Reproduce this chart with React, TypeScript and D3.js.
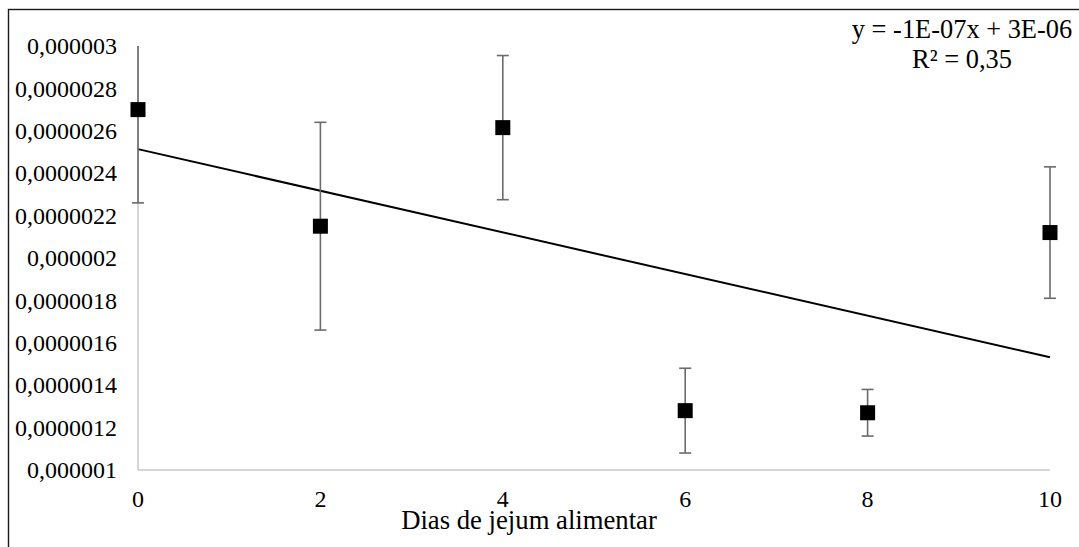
import React, { useRef, useEffect } from "react";
import * as d3 from "d3";

// dias de jejum e valores medios com erro
const days = [0, 2, 4, 6, 8, 10];
const means = [2.7e-6, 2.15e-6, 2.615e-6, 1.28e-6, 1.27e-6, 2.12e-6];
const errors = [0.44e-6, 0.49e-6, 0.34e-6, 0.2e-6, 0.11e-6, 0.31e-6];

const xTicks = [0, 2, 4, 6, 8, 10];
const yTicks = [1e-6, 1.2e-6, 1.4e-6, 1.6e-6, 1.8e-6, 2e-6, 2.2e-6, 2.4e-6, 2.6e-6, 2.8e-6, 3e-6];

const equationText = "y = -1E-07x + 3E-06";
const r2Text = "R² = 0,35";
const xTitle = "Dias de jejum alimentar";

const App = () => {
  const chartRef = useRef<HTMLDivElement>(null);

  useEffect(() => {
    draw();
  }, []);

  const draw = () => {
    const W = 1079;
    const H = 547;
    const font = "'Liberation Serif', 'Times New Roman', serif";

    d3.select(chartRef.current).selectAll("svg").remove();

    const svg = d3
      .select(chartRef.current)
      .append("svg")
      .attr("width", W)
      .attr("height", H)
      .style("position", "absolute")
      .style("top", 0)
      .style("left", 0)
      .style("background", "#fff");

    // borda do grafico (continua alem da janela)
    svg
      .append("rect")
      .attr("x", 8.5)
      .attr("y", 9.5)
      .attr("width", 1200)
      .attr("height", 700)
      .attr("fill", "#fff")
      .attr("stroke", "#1a1a1a")
      .attr("stroke-width", 1.4);

    const x = d3.scaleLinear().domain([0, 10]).range([138, 1050]);
    const y = d3.scaleLinear().domain([1e-6, 3e-6]).range([470, 46]);

    const fmt = (v: number) => d3.format(".7~f")(v).replace(".", ",");

    // eixos
    svg
      .append("line")
      .attr("x1", x(0))
      .attr("x2", x(0))
      .attr("y1", y(3e-6))
      .attr("y2", y(1e-6))
      .attr("stroke", "#c8c8c8")
      .attr("stroke-width", 1.5);
    svg
      .append("line")
      .attr("x1", x(0))
      .attr("x2", x(10))
      .attr("y1", y(1e-6))
      .attr("y2", y(1e-6))
      .attr("stroke", "#c8c8c8")
      .attr("stroke-width", 1.5);

    svg
      .append("g")
      .selectAll("text")
      .data(yTicks)
      .enter()
      .append("text")
      .attr("x", 117)
      .attr("y", (d) => y(d))
      .attr("dy", "0.34em")
      .attr("text-anchor", "end")
      .attr("font-family", font)
      .attr("font-size", 24)
      .attr("fill", "#000")
      .text((d) => fmt(d));

    svg
      .append("g")
      .selectAll("text")
      .data(xTicks)
      .enter()
      .append("text")
      .attr("x", (d) => x(d))
      .attr("y", 507)
      .attr("text-anchor", "middle")
      .attr("font-family", font)
      .attr("font-size", 24)
      .attr("fill", "#000")
      .text((d) => String(d));

    svg
      .append("text")
      .attr("x", (x(0) + x(10)) / 2 - 65)
      .attr("y", 529)
      .attr("text-anchor", "middle")
      .attr("font-family", font)
      .attr("font-size", 26.7)
      .attr("fill", "#000")
      .text(xTitle);

    // linha de tendencia (minimos quadrados)
    const mx = d3.mean(days) as number;
    const my = d3.mean(means) as number;
    const sxy = d3.sum(days, (d, i) => (d - mx) * (means[i] - my));
    const sxx = d3.sum(days, (d) => (d - mx) * (d - mx));
    const slope = sxy / sxx;
    const intercept = my - slope * mx;
    const line = d3
      .line<number>()
      .x((d) => x(d))
      .y((d) => y(intercept + slope * d));
    svg
      .append("path")
      .attr("d", line([0, 10]) as string)
      .attr("fill", "none")
      .attr("stroke", "#000")
      .attr("stroke-width", 2);

    // barras de erro
    const [yMin, yMax] = y.domain();
    const cap = 6;
    const eb = svg.append("g").attr("stroke", "#6b6b6b").attr("stroke-width", 1.6);
    days.forEach((d, i) => {
      const hi = means[i] + errors[i];
      const lo = means[i] - errors[i];
      const hiC = Math.min(hi, yMax);
      const loC = Math.max(lo, yMin);
      eb.append("line")
        .attr("x1", x(d))
        .attr("x2", x(d))
        .attr("y1", y(hiC))
        .attr("y2", y(loC));
      if (hi <= yMax) {
        eb.append("line")
          .attr("x1", x(d) - cap)
          .attr("x2", x(d) + cap)
          .attr("y1", y(hi))
          .attr("y2", y(hi));
      }
      if (lo >= yMin) {
        eb.append("line")
          .attr("x1", x(d) - cap)
          .attr("x2", x(d) + cap)
          .attr("y1", y(lo))
          .attr("y2", y(lo));
      }
    });

    // marcadores
    const s = 15;
    svg
      .append("g")
      .selectAll("rect")
      .data(days)
      .enter()
      .append("rect")
      .attr("x", (d) => x(d) - s / 2)
      .attr("y", (d, i) => y(means[i]) - s / 2)
      .attr("width", s)
      .attr("height", s)
      .attr("fill", "#000");

    // equacao
    svg
      .append("text")
      .attr("x", 962)
      .attr("y", 38)
      .attr("text-anchor", "middle")
      .attr("font-family", font)
      .attr("font-size", 26.4)
      .attr("fill", "#000")
      .text(equationText);
    svg
      .append("text")
      .attr("x", 962)
      .attr("y", 68)
      .attr("text-anchor", "middle")
      .attr("font-family", font)
      .attr("font-size", 26.4)
      .attr("fill", "#000")
      .text(r2Text);
  };

  return <div ref={chartRef}></div>;
};

export default App;
